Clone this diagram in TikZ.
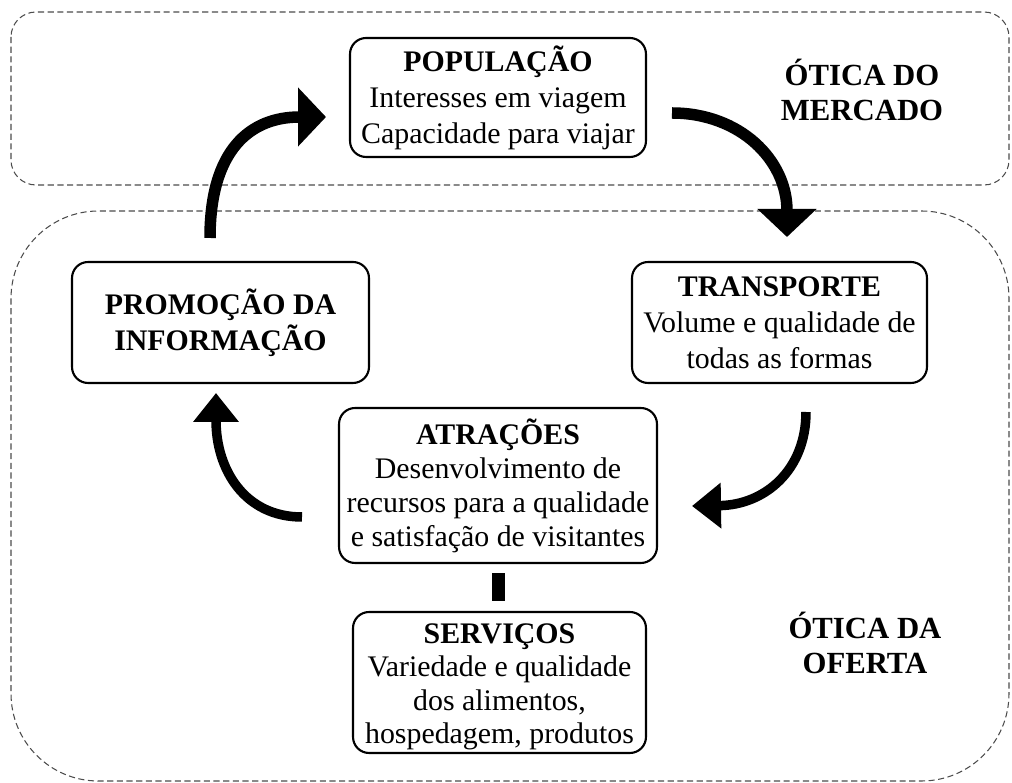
\documentclass[tikz,border=0pt]{standalone}
\usepackage{fontspec}
\setmainfont{Liberation Serif}
\usetikzlibrary{arrows.meta}

\begin{document}
\begin{tikzpicture}[x=0.02cm,y=-0.02cm,font=\fontsize{17}{20.5}\selectfont,
    stage/.style={draw,line width=1.2pt,rounded corners=0.32cm,align=center,inner sep=0pt},
    tight/.style={font=\fontsize{17}{19.4}\selectfont},
    region/.style={draw=black!70,line width=0.6pt,dash pattern=on 3.5pt off 2pt,rounded corners=#1},
    flow/.style={line width=0.23cm,-{Triangle[width=1.15cm,length=0.56cm]}},
    backflow/.style={line width=0.19cm,-{Triangle[width=0.88cm,length=0.58cm]}}]
  \useasboundingbox (0,0) rectangle (1012,783);
  % the two views
  \draw[region=0.5cm] (11,12) rectangle (1009,185);
  \draw[region=1.75cm] (11,211) rectangle (1009,781);
  \node[font=\fontsize{17.5}{20}\selectfont\bfseries,align=center] (mercado) at (862,90) {ÓTICA DO\\MERCADO};
  \node[font=\fontsize{17.5}{20}\selectfont\bfseries,align=center] (oferta) at (865,643) {ÓTICA DA\\OFERTA};

  % stages
  \node[stage,minimum width=5.92cm,minimum height=2.38cm] (pop) at (498,97.5)
    {\textbf{POPULAÇÃO}\\Interesses em viagem\\Capacidade para viajar};
  \node[stage,minimum width=5.9cm,minimum height=2.42cm] (trans) at (779.5,322.5)
    {\textbf{TRANSPORTE}\\Volume e qualidade de\\todas as formas};
  \node[stage,minimum width=5.94cm,minimum height=2.42cm] (promo) at (220.5,322.5)
    {\textbf{PROMOÇÃO DA}\\\textbf{INFORMAÇÃO}};
  \node[stage,tight,minimum width=6.36cm,minimum height=3.1cm] (atr) at (498,485.5)
    {\textbf{ATRAÇÕES}\\Desenvolvimento de\\recursos para a qualidade\\e satisfação de visitantes};
  \node[stage,font=\fontsize{17}{19}\selectfont,minimum width=5.86cm,minimum height=2.82cm] (serv) at (499.5,682.5)
    {\rule{0pt}{16pt}\textbf{SERVIÇOS}\\Variedade e qualidade\\dos alimentos,\\hospedagem, produtos};
  \draw[line width=0.26cm,shorten <=0.18cm,shorten >=0.2cm] (atr.south) -- (atr.south |- serv.north);

  % cycle arrows
  \coordinate (t1) at (210,238);
  \coordinate (h1) at (326,117);
  \coordinate (t2) at (672,113);
  \coordinate (h2) at (787,237);
  \coordinate (t3) at (806,412);
  \coordinate (h3) at (692,506);
  \coordinate (t4) at (302,517);
  \coordinate (h4) at (216,393);
  \draw[flow] (t1) .. controls (210,150) and (250,117) .. (h1);
  \draw[flow] (t2) .. controls (740,113) and (787,160) .. (h2);
  \draw[backflow] (t3) .. controls (806,470) and (765,505) .. (h3);
  \draw[backflow] (t4) .. controls (245,517) and (216,470) .. (h4);
\end{tikzpicture}
\end{document}
